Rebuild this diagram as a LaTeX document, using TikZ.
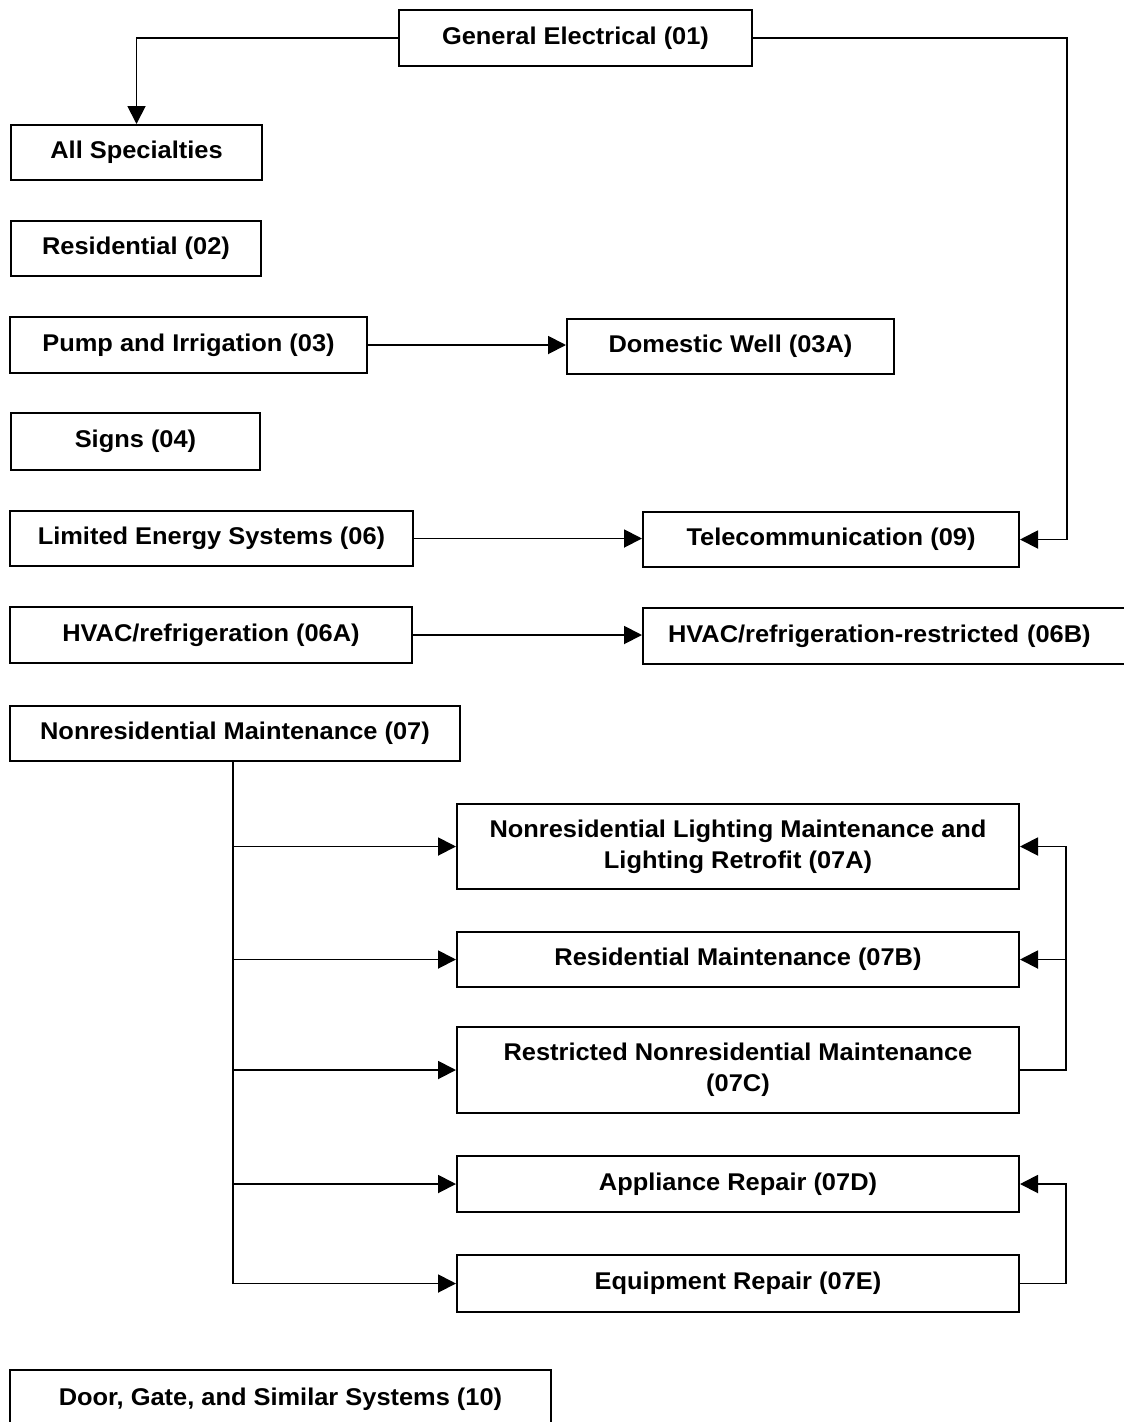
\documentclass[tikz,border=0pt]{standalone}
\usepackage{fontspec}
\setmainfont{Liberation Sans}[FakeStretch=1.05]
\usetikzlibrary{arrows.meta}
\begin{document}
\begin{tikzpicture}[x=1pt,y=-1pt,
  box/.style={draw, line width=2pt, inner sep=0pt, align=center,
    font=\fontsize{24.2}{31}\selectfont\bfseries},
  conn/.style={line width=1.9pt, -{Triangle[length=18pt,width=18pt]}},
  plain/.style={line width=1.9pt}]
\useasboundingbox (0,0) rectangle (1124,1422);
\node[box, minimum width=353pt, minimum height=56pt] (ge) at (575.5,38) {General Electrical (01)};
\node[box, minimum width=251pt, minimum height=55pt] (all) at (136.5,152.5) {All Specialties};
\node[box, minimum width=250pt, minimum height=55pt] (res) at (136,248.5) {Residential (02)};
\node[box, minimum width=357pt, minimum height=56pt] (pump) at (188.5,345) {Pump and Irrigation (03)};
\node[box, minimum width=327pt, minimum height=55pt] (well) at (730.5,346.5) {Domestic Well (03A)};
\node[box, minimum width=249pt, minimum height=57pt] (signs) at (135.5,441.5) {Signs (04)};
\node[box, minimum width=403pt, minimum height=55pt] (les) at (211.5,538.5) {Limited Energy Systems (06)};
\node[box, minimum width=376pt, minimum height=55pt] (tel) at (831,539.5) {Telecommunication (09)};
\node[box, minimum width=402pt, minimum height=56pt] (hvac) at (211,635) {HVAC/refrigeration (06A)};
\node[box, minimum width=490pt, minimum height=56pt, text width=470pt, align=left] (hvacr) at (888,636) {\hspace*{15pt}HVAC/refrigeration-restricted (06B)};
\node[box, minimum width=450pt, minimum height=55pt] (nm) at (235,733.5) {Nonresidential Maintenance (07)};
\node[box, minimum width=562pt, minimum height=85pt] (a7) at (738,846.5) {Nonresidential Lighting Maintenance and\\Lighting Retrofit (07A)};
\node[box, minimum width=562pt, minimum height=55pt] (b7) at (738,959.5) {Residential Maintenance (07B)};
\node[box, minimum width=562pt, minimum height=86pt] (c7) at (738,1070) {Restricted Nonresidential Maintenance\\(07C)};
\node[box, minimum width=562pt, minimum height=56pt] (d7) at (738,1184) {Appliance Repair (07D)};
\node[box, minimum width=562pt, minimum height=57pt] (e7) at (738,1283.5) {Equipment Repair (07E)};
\node[box, minimum width=541pt, minimum height=58pt] (door) at (280.5,1399) {Door, Gate, and Similar Systems (10)};
% connectors
\draw[conn] (ge.west) -| (all.north);
\coordinate (geR) at ([xshift=314pt]ge.east);
\draw[conn] (ge.east) -- (geR) |- (tel.east);
\draw[conn] (pump.east) -- (pump.east -| well.west);
\draw[conn] (les.east) -- (les.east -| tel.west);
\draw[conn] (hvac.east) -- (hvac.east -| hvacr.west);
\coordinate (bus) at ([xshift=-2pt]nm.south);
\draw[plain] (bus) -- (bus |- e7.west);
\draw[conn] (bus |- a7.west) -- (a7.west);
\draw[conn] (bus |- b7.west) -- (b7.west);
\draw[conn] (bus |- c7.west) -- (c7.west);
\draw[conn] (bus |- d7.west) -- (d7.west);
\draw[conn] (bus |- e7.west) -- (e7.west);
\coordinate (rb) at ([xshift=46pt]c7.east);
\draw[conn] (c7.east) -- (rb) |- (a7.east);
\draw[conn] (rb |- b7.east) -- (b7.east);
\coordinate (rb2) at ([xshift=46pt]e7.east);
\draw[conn] (e7.east) -- (rb2) |- (d7.east);
\end{tikzpicture}
\end{document}
